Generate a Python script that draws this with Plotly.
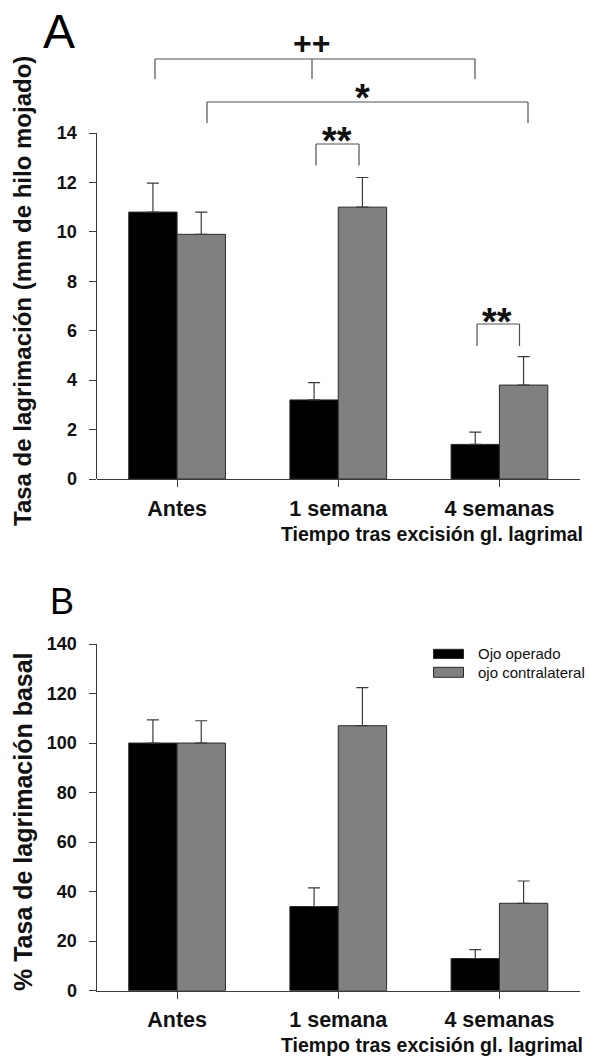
import plotly.graph_objects as go

# ---------------- data ----------------
categories = ["Antes", "1 semana", "4 semanas"]
series_names = ["Ojo operado", "ojo contralateral"]

a_operado = [10.8, 3.2, 1.4]
a_operado_err = [1.17, 0.7, 0.5]
a_contra = [9.9, 11.0, 3.8]
a_contra_err = [0.9, 1.2, 1.15]

b_operado = [100, 34, 13]
b_operado_err = [9.4, 7.5, 3.6]
b_contra = [100, 107, 35.3]
b_contra_err = [9, 15.4, 9]

a_ticks = [0, 2, 4, 6, 8, 10, 12, 14]
b_ticks = [0, 20, 40, 60, 80, 100, 120, 140]

xlabel = "Tiempo tras excisión gl. lagrimal"
a_ylabel = "Tasa de lagrimación (mm de hilo mojado)"
b_ylabel = "% Tasa de lagrimación basal"

# ---------------- styling ----------------
W, H = 589, 1057
FONT = "Liberation Sans, Arial, sans-serif"
AX = "#3a3a3a"
BLACK = "#000000"
GRAY = "#808080"
xpos = list(range(len(categories)))


def py(p):  # pixel-from-top -> paper y
    return 1 - p / H


def px(p):
    return p / W


fig = go.Figure()


def err(arr):
    return dict(type="data", array=arr, arrayminus=[0] * len(arr), symmetric=False,
                color=AX, thickness=1.2, width=6)


for xa, ya, vals in [("x", "y", [(a_operado, a_operado_err), (a_contra, a_contra_err)]),
                     ("x2", "y2", [(b_operado, b_operado_err), (b_contra, b_contra_err)])]:
    for (v, e), name, col in zip(vals, series_names, [BLACK, GRAY]):
        fig.add_trace(go.Bar(x=xpos, y=v, name=name, marker=dict(color=col, line=dict(color="#2a2a2a", width=1)),
                             error_y=err(e), xaxis=xa, yaxis=ya, showlegend=False))

# panel A: y scale 0..14 occupies px 479..133
a_px_per = (479 - 133) / 14.0
a_top = (479 - 20) / a_px_per
xdom = [px(96.5), px(580)]

tickfont = dict(family=FONT, size=18, color="#111", weight="bold")
xtickfont = dict(family=FONT, size=21.5, color="#111", weight="bold")

common_x = dict(domain=xdom, range=[-0.5, 2.5], tickvals=xpos, ticktext=categories,
                showline=True, linecolor=AX, linewidth=1, ticks="outside", ticklen=7, tickcolor=AX,
                tickfont=xtickfont, showgrid=False, zeroline=False, automargin=False, fixedrange=True)

fig.update_layout(
    width=W, height=H, margin=dict(l=0, r=0, t=0, b=0, pad=0, autoexpand=False),
    paper_bgcolor="white", plot_bgcolor="white",
    barmode="group", bargap=0.4, bargroupgap=0,
    xaxis=dict(common_x, anchor="y", ticklabelstandoff=3),
    yaxis=dict(domain=[py(479), py(20)], range=[0, a_top], tickvals=a_ticks,
               showline=False, ticks="outside", ticklen=7, tickcolor=AX, tickfont=tickfont,
               ticklabelstandoff=8, showgrid=False, zeroline=False, anchor="x", automargin=False,
               fixedrange=True),
    xaxis2=dict(common_x, anchor="y2", ticklabelstandoff=2),
    yaxis2=dict(domain=[py(990.7), py(644)], range=[0, 140], tickvals=b_ticks,
                showline=True, linecolor=AX, linewidth=1, ticks="outside", ticklen=7, tickcolor=AX,
                tickfont=tickfont, ticklabelstandoff=8, showgrid=False, zeroline=False, anchor="x2",
                automargin=False, fixedrange=True),
    showlegend=False,
)

shapes = []
# y-axis line of panel A only from 0 to 14
shapes.append(dict(type="line", xref="x domain", yref="y", x0=0, x1=0, y0=0, y1=a_ticks[-1],
                   line=dict(color=AX, width=1)))


def ay(p):  # pixel -> panel A data y
    return (479 - p) / a_px_per


def axd(p):  # pixel -> panel A data x
    return (p - 96.5) / ((580 - 96.5) / 3.0) - 0.5


BR = dict(color="#505050", width=1.2)


def bracket(xs, yh, yb):
    shapes.append(dict(type="line", xref="x", yref="y", x0=xs[0], x1=xs[-1], y0=yh, y1=yh, line=BR))
    for xx in xs:
        shapes.append(dict(type="line", xref="x", yref="y", x0=xx, x1=xx, y0=yh, y1=yb, line=BR))


bracket([axd(155), axd(312), axd(475)], ay(59), ay(79))
bracket([axd(207), axd(528)], ay(102), ay(123))
bracket([axd(316), axd(359)], ay(144), ay(165.5))
bracket([axd(477), axd(519.5)], ay(324), ay(346))

# legend for panel B
for (y0, y1), col in zip([(649.3, 658.5), (667.3, 677.3)], [BLACK, GRAY]):
    shapes.append(dict(type="rect", xref="paper", yref="paper", x0=px(433.5), x1=px(463.5),
                       y0=py(y1), y1=py(y0), fillcolor=col, line=dict(color="#2a2a2a", width=1)))

fig.update_layout(shapes=shapes)

ann = []
for txt, xc, yc, sz in [("++", 311, 43, 32), ("*", 362, 98, 38), ("**", 337, 141, 38), ("**", 497, 322, 38)]:
    ann.append(dict(text="<b>%s</b>" % txt, xref="x", yref="y", x=axd(xc), y=ay(yc),
                    showarrow=False, font=dict(family=FONT, size=sz, color="#111"),
                    xanchor="center", yanchor="middle"))

for txt, yc in [(xlabel, 534), (xlabel, 1045)]:
    ann.append(dict(text="<b>%s</b>" % txt, xref="paper", yref="paper", x=px(585), y=py(yc),
                    showarrow=False, font=dict(family=FONT, size=19.5, color="#111"),
                    xanchor="right", yanchor="middle"))

for txt, yc, sz in [(a_ylabel, 291, 24), (b_ylabel, 822, 25)]:
    ann.append(dict(text="<b>%s</b>" % txt, xref="paper", yref="paper", x=px(23), y=py(yc),
                    showarrow=False, textangle=-90, font=dict(family=FONT, size=sz, color="#111"),
                    xanchor="center", yanchor="middle"))

ann.append(dict(text="A", xref="paper", yref="paper", x=px(59), y=py(31), showarrow=False,
                font=dict(family=FONT, size=48, color="#000"), xanchor="center", yanchor="middle"))
ann.append(dict(text="B", xref="paper", yref="paper", x=px(62), y=py(601), showarrow=False,
                font=dict(family=FONT, size=36, color="#000"), xanchor="center", yanchor="middle"))

for name, yc in zip(series_names, [653.5, 672]):
    ann.append(dict(text=name, xref="paper", yref="paper", x=px(476), y=py(yc), showarrow=False,
                    font=dict(family=FONT, size=15, color="#111"), xanchor="left", yanchor="middle"))

fig.update_layout(annotations=ann)

fig.write_html("out.html", config={"displayModeBar": False, "staticPlot": True},
               post_script="document.body.style.margin='0';document.body.style.padding='0';")
